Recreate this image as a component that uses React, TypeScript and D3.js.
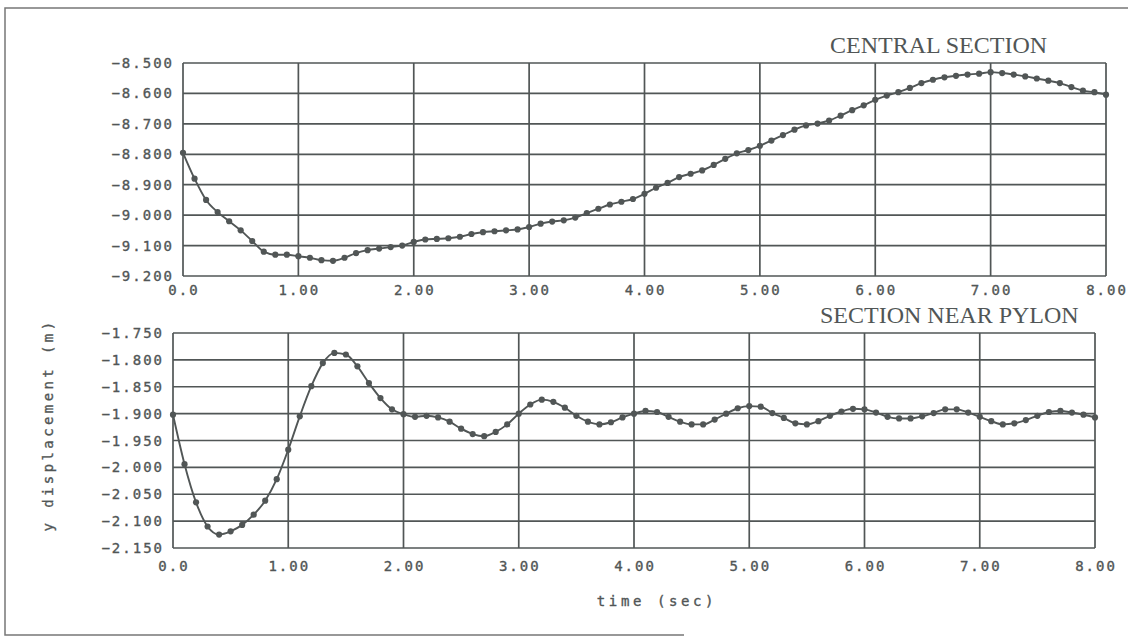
import { useEffect, useRef } from "react";
import * as d3 from "d3";

// time axis, one sample every 0.1 s
const time = d3.range(81).map((i) => i / 10);

const centralSection = [
  -8.795, -8.88, -8.95, -8.99, -9.02, -9.05, -9.085, -9.12, -9.13, -9.13,
  -9.135, -9.14, -9.148, -9.15, -9.14, -9.125, -9.115, -9.11, -9.105, -9.1,
  -9.088, -9.08, -9.078, -9.076, -9.071, -9.062, -9.056, -9.053, -9.05, -9.047,
  -9.039, -9.028, -9.021, -9.017, -9.008, -8.993, -8.979, -8.965, -8.956, -8.947,
  -8.93, -8.91, -8.894, -8.875, -8.864, -8.853, -8.835, -8.815, -8.797, -8.786,
  -8.772, -8.755, -8.737, -8.719, -8.705, -8.699, -8.689, -8.673, -8.655, -8.639,
  -8.621, -8.607, -8.596, -8.582, -8.566, -8.555, -8.547, -8.542, -8.538, -8.535,
  -8.53, -8.533, -8.538, -8.544, -8.551, -8.558, -8.566, -8.579, -8.591, -8.596,
  -8.604,
];

const nearPylon = [
  -1.902, -1.994, -2.065, -2.11, -2.125, -2.119, -2.107, -2.088, -2.062, -2.022,
  -1.967, -1.905, -1.849, -1.806, -1.787, -1.79, -1.812, -1.843, -1.871, -1.892,
  -1.901, -1.906, -1.904, -1.907, -1.915, -1.928, -1.938, -1.942, -1.934, -1.92,
  -1.9, -1.883, -1.874, -1.878, -1.889, -1.904, -1.915, -1.92, -1.916, -1.907,
  -1.9, -1.895, -1.897, -1.906, -1.915, -1.92, -1.92, -1.911, -1.9, -1.89,
  -1.886, -1.887, -1.899, -1.908, -1.918, -1.92, -1.914, -1.904, -1.896, -1.891,
  -1.892, -1.898, -1.906, -1.909, -1.909, -1.905, -1.899, -1.892, -1.892, -1.898,
  -1.906, -1.914, -1.92, -1.918, -1.912, -1.904, -1.897, -1.895, -1.898, -1.902,
  -1.907,
];

const xTicks = [0, 1, 2, 3, 4, 5, 6, 7, 8];
const topYTicks = [-8.5, -8.6, -8.7, -8.8, -8.9, -9.0, -9.1, -9.2];
const bottomYTicks = [-1.75, -1.8, -1.85, -1.9, -1.95, -2.0, -2.05, -2.1, -2.15];

const ink = "#515656";
const plotFont = "'DejaVu Sans Mono', monospace";
const titleFont = "'Liberation Serif', 'DejaVu Serif', serif";

const App = () => {
  const ref = useRef<SVGSVGElement>(null);

  useEffect(() => {
    const svg = d3.select(ref.current);
    svg.selectAll("*").remove();

    // outer page frame (left, top, part of bottom)
    svg.append("path")
      .attr("d", "M1128,8 L5,8 L5,635 L684,635")
      .attr("fill", "none")
      .attr("stroke", "#777")
      .attr("stroke-width", 1.5);

    const plotText = (sel: any, spacing: number) =>
      sel
        .attr("font-family", plotFont)
        .attr("font-size", 14)
        .attr("letter-spacing", spacing)
        .attr("fill", ink)
        .attr("stroke", ink)
        .attr("stroke-width", 0.35);

    const panel = (
      data: number[],
      yTicks: number[],
      box: { left: number; right: number; top: number; bottom: number },
      labelBaseline: number,
      title: string,
      titleX: number,
      titleY: number
    ) => {
      const x = d3.scaleLinear([0, 8], [box.left, box.right]);
      const y = d3.scaleLinear([yTicks[yTicks.length - 1], yTicks[0]], [box.bottom, box.top]);
      const g = svg.append("g");

      g.append("g")
        .selectAll("line")
        .data(yTicks)
        .join("line")
        .attr("x1", box.left)
        .attr("x2", box.right)
        .attr("y1", (d) => y(d))
        .attr("y2", (d) => y(d))
        .attr("stroke", ink)
        .attr("stroke-width", 1.7);

      g.append("g")
        .selectAll("line")
        .data(xTicks)
        .join("line")
        .attr("x1", (d) => x(d))
        .attr("x2", (d) => x(d))
        .attr("y1", box.top)
        .attr("y2", box.bottom)
        .attr("stroke", ink)
        .attr("stroke-width", 1.7);

      const fmt = d3.format(".3f");
      plotText(
        g.append("g")
          .selectAll("text")
          .data(yTicks)
          .join("text")
          .attr("x", box.left - 9)
          .attr("y", (d) => y(d) + 5)
          .attr("text-anchor", "end"),
        2
      ).text((d: number) => fmt(d));

      plotText(
        g.append("g")
          .selectAll("text")
          .data(xTicks)
          .join("text")
          .attr("x", (d) => x(d) + 1)
          .attr("y", labelBaseline)
          .attr("text-anchor", "middle"),
        2
      ).text((d: number) => (d === 0 ? "0.0" : d3.format(".2f")(d)));

      const line = d3.line<number>()
        .x((d, i) => x(time[i]))
        .y((d) => y(d))
        .curve(d3.curveMonotoneX);

      g.append("path")
        .datum(data)
        .attr("d", line)
        .attr("fill", "none")
        .attr("stroke", ink)
        .attr("stroke-width", 1.9);

      g.append("g")
        .selectAll("circle")
        .data(data)
        .join("circle")
        .attr("cx", (d, i) => x(time[i]))
        .attr("cy", (d) => y(d))
        .attr("r", 3.1)
        .attr("fill", ink);

      g.append("text")
        .attr("x", titleX)
        .attr("y", titleY)
        .attr("font-family", titleFont)
        .attr("font-size", 24)
        .attr("fill", ink)
        .text(title);
    };

    panel(centralSection, topYTicks, { left: 183, right: 1106, top: 63, bottom: 276 }, 295,
      "CENTRAL SECTION", 830, 53);
    panel(nearPylon, bottomYTicks, { left: 173, right: 1095, top: 333, bottom: 548 }, 571,
      "SECTION NEAR PYLON", 820, 323);

    plotText(
      svg.append("text")
        .attr("x", 657)
        .attr("y", 606)
        .attr("text-anchor", "middle"),
      3.6
    ).text("time (sec)");

    plotText(
      svg.append("text")
        .attr("transform", "translate(53,425) rotate(-90)")
        .attr("text-anchor", "middle"),
      3.4
    ).text("y displacement (m)");
  }, []);

  return (
    <svg
      ref={ref}
      width={1128}
      height={637}
      style={{ position: "absolute", left: 0, top: 0, background: "#fff" }}
    />
  );
};

export default App;
